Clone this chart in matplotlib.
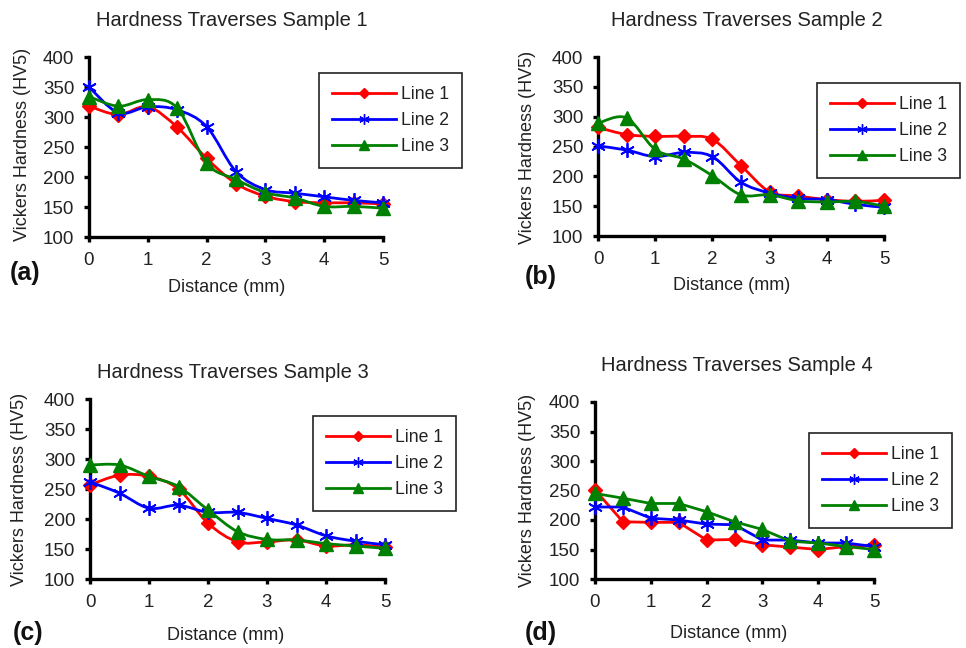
import matplotlib
matplotlib.use("Agg")
import matplotlib.pyplot as plt
from matplotlib.path import Path
from matplotlib.patches import PathPatch
from matplotlib.lines import Line2D
import numpy as np

plt.rcParams['font.family'] = ['Liberation Sans', 'DejaVu Sans']

# ---------------- data ----------------
distance = [0, 0.5, 1, 1.5, 2, 2.5, 3, 3.5, 4, 4.5, 5]

s1_line1 = [318, 304, 317, 283, 231, 189, 168, 159, 157, 157, 155]
s1_line2 = [350, 307, 317, 312, 284, 209, 179, 173, 167, 161, 157]
s1_line3 = [334, 318, 329, 315, 223, 196, 174, 165, 151, 151, 148]

s2_line1 = [282, 270, 267, 267, 262, 218, 174, 167, 161, 158, 160]
s2_line2 = [251, 244, 233, 240, 233, 190, 172, 163, 161, 153, 148]
s2_line3 = [289, 298, 245, 229, 201, 169, 169, 159, 157, 158, 150]

s3_line1 = [257, 273, 271, 250, 193, 162, 162, 165, 155, 157, 153]
s3_line2 = [262, 243, 218, 223, 211, 211, 201, 190, 172, 163, 157]
s3_line3 = [290, 290, 271, 254, 215, 179, 166, 165, 159, 155, 151]

s4_line1 = [251, 197, 196, 196, 166, 167, 158, 154, 150, 155, 158]
s4_line2 = [222, 222, 203, 200, 193, 192, 166, 166, 161, 161, 155]
s4_line3 = [245, 237, 228, 228, 214, 197, 184, 164, 161, 155, 150]

titles = ["Hardness Traverses Sample 1", "Hardness Traverses Sample 2",
          "Hardness Traverses Sample 3", "Hardness Traverses Sample 4"]
panel_tags = ["(a)", "(b)", "(c)", "(d)"]
series_labels = ["Line 1", "Line 2", "Line 3"]
x_label = "Distance (mm)"
y_label = "Vickers Hardness (HV5)"
x_ticks = [0, 1, 2, 3, 4, 5]
y_ticks = [100, 150, 200, 250, 300, 350, 400]

samples = [
    [s1_line1, s1_line2, s1_line3],
    [s2_line1, s2_line2, s2_line3],
    [s3_line1, s3_line2, s3_line3],
    [s4_line1, s4_line2, s4_line3],
]
smoothed = [True, True, True, False]

# ---------------- style ----------------
W, H = 966, 648
fig = plt.figure(figsize=(W / 100, H / 100), dpi=100)
fig.patch.set_facecolor('white')

colors = ['#FF0000', '#0000FF', '#008000']
markers = ['D', (6, 2, 0), '^']
msizes = [7.5, 10.5, 10]
mew = [1.0, 1.3, 1.0]
leg_ms = [5, 7.5, 7]

# panel geometry in pixels: left, right, top, bottom
axes_px = [(89, 383, 57, 237), (598, 884, 57, 236),
           (90, 385, 399, 579), (595, 874, 402, 579)]
title_px = [(232, 20), (747, 20), (233, 372), (737, 366)]
xlab_px = [(227, 287), (732, 285), (226, 635), (729, 633)]
ylab_px = [(23, 144), (528, 147), (20, 489), (527, 490)]
tag_px = [(25, 273), (541, 277), (28, 633), (541, 633)]
legend_px = [(319, 73), (817, 83), (313, 416), (809, 433)]


def fx(px):
    return px / W


def fy(py):
    return 1 - py / H


def smooth_path(xs, ys):
    pts = np.column_stack([xs, ys]).astype(float)
    n = len(pts)
    verts = [pts[0]]
    codes = [Path.MOVETO]
    for i in range(n - 1):
        p_prev = pts[i - 1] if i > 0 else pts[i]
        p0 = pts[i]
        p1 = pts[i + 1]
        p_next = pts[i + 2] if i + 2 < n else pts[i + 1]
        c1 = p0 + (p1 - p_prev) / 6.0
        c2 = p1 - (p_next - p0) / 6.0
        verts += [c1, c2, p1]
        codes += [Path.CURVE4] * 3
    return Path(verts, codes)


for k in range(4):
    l, r, t, b = axes_px[k]
    ax = fig.add_axes([fx(l), fy(b), (r - l) / W, (b - t) / H])
    ax.set_xlim(0, 5)
    ax.set_ylim(100, 400)
    for j, ys in enumerate(samples[k]):
        if smoothed[k]:
            patch = PathPatch(smooth_path(distance, ys), facecolor='none',
                              edgecolor=colors[j], lw=2.0, clip_on=False,
                              zorder=2 + j)
            ax.add_patch(patch)
            ax.plot(distance, ys, linestyle='none', marker=markers[j],
                    ms=msizes[j], color=colors[j], mec=colors[j], mew=mew[j],
                    clip_on=False, zorder=2 + j)
        else:
            ax.plot(distance, ys, linestyle='-', lw=2.0, marker=markers[j],
                    ms=msizes[j], color=colors[j], mec=colors[j], mew=mew[j],
                    clip_on=False, zorder=2 + j)

    for s in ['top', 'right']:
        ax.spines[s].set_visible(False)
    for s in ['left', 'bottom']:
        ax.spines[s].set_linewidth(2.4)
        ax.spines[s].set_color('black')
        ax.spines[s].set_zorder(1)
    ax.set_xticks(x_ticks)
    ax.set_yticks(y_ticks)
    ax.tick_params(axis='both', direction='out', length=3.5, width=2.4,
                   labelsize=13.5, colors='black', pad=7)
    for lab in ax.get_xticklabels() + ax.get_yticklabels():
        lab.set_color('#222222')

    fig.text(fx(title_px[k][0]), fy(title_px[k][1]), titles[k],
             ha='center', va='center', fontsize=14.5, color='#222222')
    fig.text(fx(xlab_px[k][0]), fy(xlab_px[k][1]), x_label,
             ha='center', va='center', fontsize=13, color='#222222')
    fig.text(fx(ylab_px[k][0]), fy(ylab_px[k][1]), y_label,
             ha='center', va='center', rotation=90, fontsize=13,
             color='#222222')
    fig.text(fx(tag_px[k][0]), fy(tag_px[k][1]), panel_tags[k],
             ha='center', va='center', fontsize=18, fontweight='bold',
             color='#111111')

    handles = [Line2D([], [], color=colors[j], lw=2.0, marker=markers[j],
                      ms=leg_ms[j], mew=1.0, mec=colors[j])
               for j in range(3)]
    leg = ax.legend(handles, series_labels, loc='upper left',
                    bbox_to_anchor=(fx(legend_px[k][0]), fy(legend_px[k][1])),
                    bbox_transform=fig.transFigure, borderaxespad=0,
                    fontsize=12.7, handlelength=3.6, handletextpad=0.3,
                    labelspacing=0.5, borderpad=0.75, fancybox=False,
                    framealpha=1, edgecolor='#222222')
    leg.get_frame().set_linewidth(1.2)
    for txt in leg.get_texts():
        txt.set_color('#222222')

fig.savefig('out.png', dpi=100, facecolor='white')
